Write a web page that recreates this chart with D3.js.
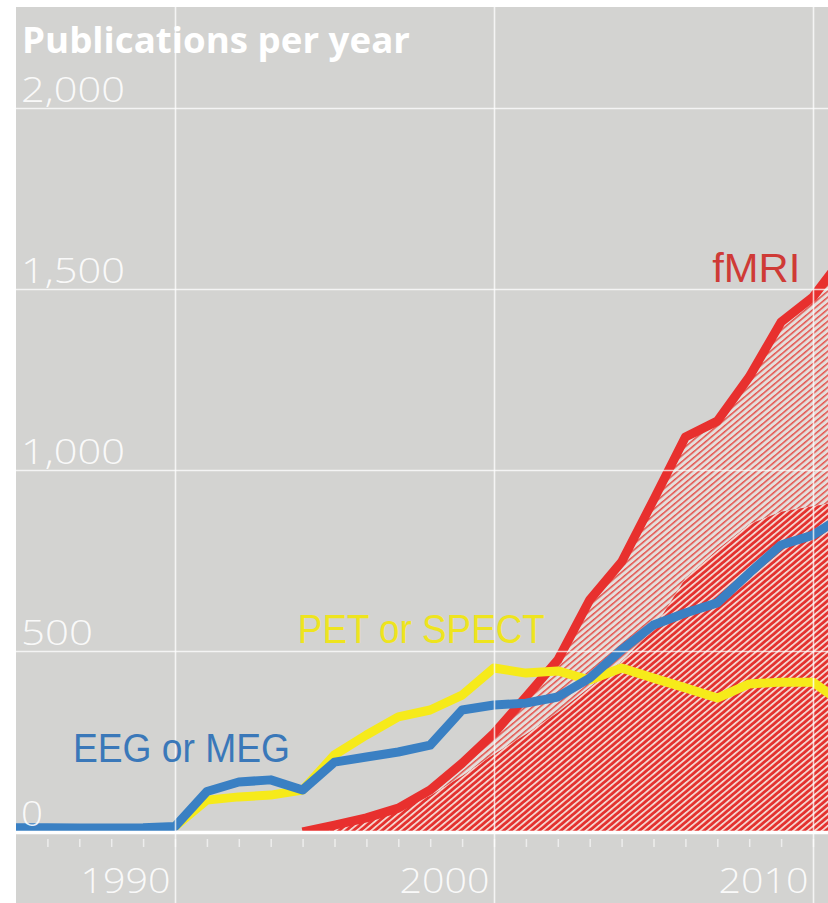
<!DOCTYPE html>
<html>
<head>
<meta charset="utf-8">
<script src="https://cdn.jsdelivr.net/npm/d3@7"></script>
<style>
  html, body { margin: 0; padding: 0; background: #ffffff; }
  svg { display: block; }
</style>
</head>
<body>
<div id="chart"></div>
<script>
// ---------- data ----------
const eegYears   = [1985,1986,1987,1988,1989,1990,1991,1992,1993,1994,1995,1996,1997,1998,1999,2000,2001,2002,2003,2004,2005,2006,2007,2008,2009,2010,2011];
const eegValues  = [12,12,11,11,12,15,112,138,144,116,193,207,221,240,337,351,356,373,425,503,572,605,633,715,793,820,876];

const petYears   = [1990,1991,1992,1993,1994,1995,1996,1997,1998,1999,2000,2001,2002,2003,2004,2005,2006,2007,2008,2009,2010,2011];
const petValues  = [15,88,97,102,116,213,268,318,337,378,453,439,445,420,453,425,398,370,409,414,414,351];

const fmriYears  = [1994,1995,1996,1997,1998,1999,2000,2001,2002,2003,2004,2005,2006,2007,2008,2009,2010,2011];
const fmriTotal  = [0,19,39,66,116,190,273,373,475,641,746,917,1091,1135,1257,1409,1478,1594];
const fmriInner  = [0,17,35,60,100,155,215,270,330,400,470,560,700,780,850,885,900,915];

const yTickValues = [0,500,1000,1500,2000];
const xLabelYears = [1990,2000,2010];
const xMinorYears = [1986,1987,1988,1989,1990,1991,1992,1993,1994,1995,1996,1997,1998,1999,2000,2001,2002,2003,2004,2005,2006,2007,2008,2009,2010];

const chartTitle = "Publications per year";
const seriesLabels = { fmri: "fMRI", pet: "PET or SPECT", eeg: "EEG or MEG" };

(function () {
// ---------- layout ----------
const W = 828, H = 903;
const plotLeft = 16, plotTop = 7;
const colors = {
  bg: "#d3d3d1",
  red: "#e8302e",
  redText: "#cf3a36",
  yellow: "#f6ea1a",
  yellowText: "#eee41e",
  blue: "#3a80c3",
  blueText: "#3a78b9"
};

const svg = d3.select("#chart").append("svg")
  .attr("width", W).attr("height", H);

const x = d3.scaleLinear().domain([1990, 2010]).range([175, 813]);
const y = d3.scaleLinear().domain([0, 2000]).range([832, 108]);

// background
svg.append("rect").attr("x", plotLeft).attr("y", plotTop)
  .attr("width", W - plotLeft).attr("height", H - plotTop).attr("fill", colors.bg);

// patterns
const defs = svg.append("defs");
const dense = defs.append("pattern").attr("id", "dense")
  .attr("patternUnits", "userSpaceOnUse").attr("width", 4.6).attr("height", 4.6)
  .attr("patternTransform", "rotate(-40)");
dense.append("rect").attr("width", 4.6).attr("height", 4.6).attr("fill", "#e4322f");
dense.append("rect").attr("y", 0).attr("width", 4.6).attr("height", 1.7).attr("fill", "#f6e0da");

const light = defs.append("pattern").attr("id", "light")
  .attr("patternUnits", "userSpaceOnUse").attr("width", 4.6).attr("height", 4.6)
  .attr("patternTransform", "rotate(-40)");
light.append("rect").attr("width", 4.6).attr("height", 4.6).attr("fill", "#e4dfdc");
light.append("rect").attr("y", 0).attr("width", 4.6).attr("height", 1.5).attr("fill", "#e4504a");

defs.append("clipPath").attr("id", "plotclip")
  .append("rect").attr("x", plotLeft).attr("y", plotTop).attr("width", W - plotLeft).attr("height", 832 - plotTop);

const plot = svg.append("g").attr("clip-path", "url(#plotclip)");

const fmriData = fmriYears.map((yr, i) => ({ yr, total: fmriTotal[i], inner: fmriInner[i] }));

// outer lightly hatched area
plot.append("path").datum(fmriData)
  .attr("fill", "url(#light)")
  .attr("d", d3.area().x(d => x(d.yr)).y0(d => y(d.inner)).y1(d => y(d.total)));
// inner dense area
plot.append("path").datum(fmriData)
  .attr("fill", "url(#dense)")
  .attr("d", d3.area().x(d => x(d.yr)).y0(y(0)).y1(d => y(d.inner)));

// horizontal gridlines with y axis
const gy = svg.append("g").attr("transform", `translate(${plotLeft},0)`)
  .call(d3.axisRight(y).tickValues(yTickValues).tickSize(W - plotLeft).tickFormat(d3.format(",")));
gy.select(".domain").remove();
gy.selectAll(".tick line").attr("stroke", "#ffffff").attr("stroke-opacity", 0.75).attr("stroke-width", 1.6)
  .filter(d => d === 0).attr("stroke-opacity", 1).attr("stroke-width", 3.5);
gy.selectAll(".tick text")
  .attr("x", 5).attr("y", -7).attr("dy", 0)
  .attr("text-anchor", "start")
  .attr("fill", "#ffffff").attr("fill-opacity", 0.9)
  .style("font-family", "'Open Sans', 'DejaVu Sans', sans-serif")
  .style("font-weight", 300)
  .style("font-size", "34px")
  .attr("textLength", d => d === 0 ? 22 : (d < 1000 ? 72 : 104))
  .attr("lengthAdjust", "spacingAndGlyphs");

// vertical gridlines with x labels
const gx = svg.append("g").attr("transform", `translate(0,${plotTop})`)
  .call(d3.axisBottom(x).tickValues(xLabelYears).tickSize(H - plotTop).tickFormat(d3.format("d")));
gx.select(".domain").remove();
gx.selectAll(".tick line").attr("stroke", "#ffffff").attr("stroke-opacity", 0.75).attr("stroke-width", 1.6);
gx.selectAll(".tick text")
  .attr("x", -5).attr("y", 886).attr("dy", 0)
  .attr("text-anchor", "end")
  .attr("fill", "#ffffff").attr("fill-opacity", 0.9)
  .style("font-family", "'Open Sans', 'DejaVu Sans', sans-serif")
  .style("font-weight", 300)
  .style("font-size", "34px")
  .attr("textLength", 90)
  .attr("lengthAdjust", "spacingAndGlyphs");

// minor year ticks below baseline
const gt = svg.append("g").attr("transform", `translate(0,839)`)
  .call(d3.axisBottom(x).tickValues(xMinorYears).tickSize(8).tickFormat(""));
gt.select(".domain").remove();
gt.selectAll(".tick line").attr("stroke", "#ffffff").attr("stroke-opacity", 0.6).attr("stroke-width", 1.5);

// lines
const line = d3.line().x(d => x(d[0])).y(d => y(d[1]));
plot.append("path").datum(fmriYears.map((yr, i) => [yr, fmriTotal[i]]))
  .attr("fill", "none").attr("stroke", colors.red).attr("stroke-width", 9)
  .attr("stroke-linejoin", "round").attr("d", line);
plot.append("path").datum(petYears.map((yr, i) => [yr, petValues[i]]))
  .attr("fill", "none").attr("stroke", colors.yellow).attr("stroke-width", 9)
  .attr("stroke-linejoin", "round").attr("d", line);
plot.append("path").datum(eegYears.map((yr, i) => [yr, eegValues[i]]))
  .attr("fill", "none").attr("stroke", colors.blue).attr("stroke-width", 9)
  .attr("stroke-linejoin", "round").attr("d", line);

// series labels
const labelFont = "'Liberation Sans', Arial, sans-serif";
svg.append("text").text(seriesLabels.fmri)
  .attr("x", x(2009.6)).attr("y", y(1520)).attr("text-anchor", "end")
  .attr("fill", colors.redText).style("font-family", labelFont).style("font-size", "40px")
  .attr("textLength", 88).attr("lengthAdjust", "spacingAndGlyphs");
svg.append("text").text(seriesLabels.pet)
  .attr("x", x(1993.85)).attr("y", y(522))
  .attr("fill", colors.yellowText).style("font-family", labelFont).style("font-size", "40px")
  .attr("textLength", 247).attr("lengthAdjust", "spacingAndGlyphs");
svg.append("text").text(seriesLabels.eeg)
  .attr("x", x(1986.8)).attr("y", y(192))
  .attr("fill", colors.blueText).style("font-family", labelFont).style("font-size", "40px")
  .attr("textLength", 217).attr("lengthAdjust", "spacingAndGlyphs");

// title
svg.append("text").text(chartTitle)
  .attr("x", 22).attr("y", 53)
  .attr("fill", "#ffffff")
  .style("font-family", "'Open Sans', 'DejaVu Sans', sans-serif")
  .style("font-weight", 700).style("font-size", "35px")
  .attr("textLength", 388).attr("lengthAdjust", "spacingAndGlyphs");
})();
</script>
</body>
</html>
